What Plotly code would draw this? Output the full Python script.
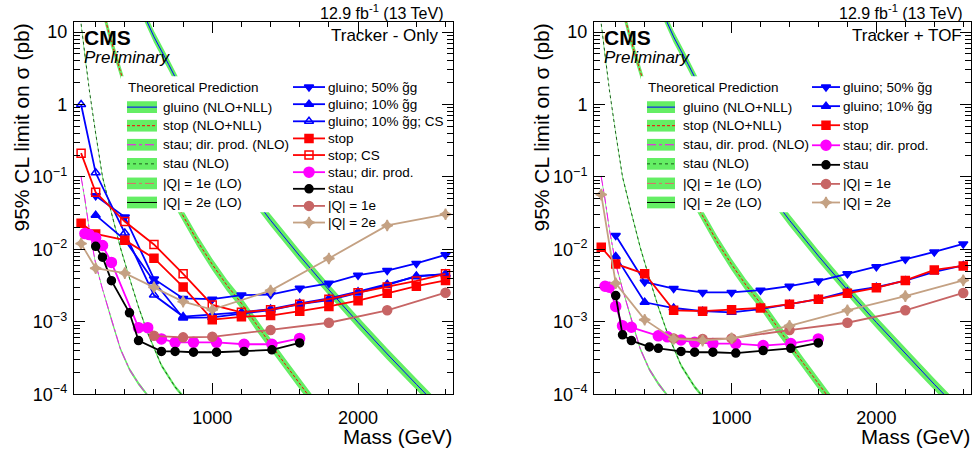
import plotly.graph_objects as go

W, H = 975, 459
FONT = "Liberation Sans, Arial, Helvetica, sans-serif"

# ---------------- theory cross sections (pb) ----------------
glu_th_m = [500, 600, 700, 800, 900, 1000, 1200, 1400, 1600, 1800, 2000, 2200, 2400, 2600]
glu_th = [24.0, 8.6, 3.6, 1.45, 0.66, 0.32, 0.0856, 0.0252, 0.0081, 0.00276, 0.00098, 0.00036, 0.000137, 0.000053]

stop_th_m = [250, 300, 400, 500, 600, 700, 800, 900, 1000, 1100, 1200, 1300, 1400, 1500, 1600, 1700]
stop_th = [20, 8.3, 1.8, 0.51, 0.17, 0.066, 0.029, 0.0128, 0.0062, 0.0032, 0.0018, 0.00092, 0.00049, 0.00026, 0.00014, 0.000075]

stau_th_m = [100, 126, 156, 200, 247, 308, 370, 432, 494, 557, 651, 745, 871]
stau_th = [13, 4.5, 1.6, 0.4, 0.1, 0.032, 0.0105, 0.004, 0.0016, 0.0007, 0.00025, 0.000126, 0.000063]

staudir_th_m = [100, 126, 156, 200, 247, 308, 370, 432, 494, 557, 651]
staudir_th = [0.1, 0.05, 0.019, 0.0063, 0.0028, 0.00105, 0.00042, 0.00022, 0.00014, 0.000095, 0.000056]

# ---------------- observed limits: Tracker-Only ----------------
glu_m = [200, 400, 600, 800, 1000, 1200, 1400, 1600, 1800, 2000, 2200, 2400, 2600]
glu50_tk = [0.055, 0.028, 0.0039, 0.0021, 0.00205, 0.00234, 0.00238, 0.0029, 0.0034, 0.0044, 0.0051, 0.0064, 0.0084]
glu10_tk = [0.0297, 0.0135, 0.0036, 0.00113, 0.00115, 0.0013, 0.00145, 0.00175, 0.002, 0.0025, 0.0032, 0.0043, 0.0045]
glucs_m = [100, 200, 400, 600, 800, 1000, 1200, 1400, 1600, 1800, 2000, 2200, 2400, 2600]
glu10cs_tk = [1.0, 0.114, 0.0168, 0.00234, 0.00118, 0.00125, 0.00135, 0.0015, 0.0018, 0.0021, 0.0026, 0.0033, 0.0042, 0.0046]
stop_m = [100, 200, 400, 600, 800, 1000, 1200, 1400, 1600, 1800, 2000, 2200, 2400, 2600]
stop_tk = [0.023, 0.0163, 0.0134, 0.00755, 0.00303, 0.00107, 0.00117, 0.00122, 0.0014, 0.00163, 0.00196, 0.00247, 0.0031, 0.00373]
stopcs_tk = [0.213, 0.0614, 0.0242, 0.0117, 0.00459, 0.00171, 0.00135, 0.00147, 0.00175, 0.00205, 0.00252, 0.00303, 0.00366, 0.0046]
staudir_m = [126, 156, 200, 247, 308, 494, 557, 651, 745, 871, 1029, 1218, 1409, 1599]
staudir_tk = [0.0165, 0.016, 0.0144, 0.0113, 0.0066, 0.00083, 0.00083, 0.00058, 0.00052, 0.00052, 0.00052, 0.00049, 0.00049, 0.00059]
stau_m = [200, 247, 308, 432, 494, 651, 745, 871, 1029, 1218, 1409, 1599]
stau_tk = [0.011, 0.0078, 0.0037, 0.00133, 0.00055, 0.00039, 0.00039, 0.00038, 0.00038, 0.00039, 0.00041, 0.00051]
q1_m = [600, 800, 1000, 1400, 1800, 2200, 2600]
q1_tk = [0.00064, 0.00061, 0.00062, 0.00077, 0.00097, 0.00144, 0.00252]
q2_m = [100, 200, 400, 600, 800, 1000, 1400, 1800, 2200, 2600]
q2_tk = [0.012, 0.0055, 0.0047, 0.0030, 0.0019, 0.00147, 0.0027, 0.0075, 0.0214, 0.0305]

# ---------------- observed limits: Tracker + TOF ----------------
glu50_tof = [0.0155, 0.00355, 0.00288, 0.00254, 0.00254, 0.00273, 0.0031, 0.00366, 0.0046, 0.00577, 0.0073, 0.0092, 0.0119]
glu10_tof = [0.008, 0.00186, 0.00155, 0.0014, 0.00135, 0.0015, 0.00175, 0.00205, 0.0026, 0.003, 0.0037, 0.0049, 0.006]
stop_tof = [0.0107, 0.0063, 0.0046, 0.00144, 0.0014, 0.00147, 0.00155, 0.00175, 0.00205, 0.00247, 0.00294, 0.00373, 0.0052, 0.0059]
staudir_tof = [0.0031, 0.003, 0.00163, 0.00088, 0.00084, 0.00064, 0.00062, 0.00056, 0.00052, 0.0005, 0.0005, 0.00047, 0.0005, 0.00058]
stau_tof = [0.0023, 0.00066, 0.00055, 0.00045, 0.00043, 0.00039, 0.00038, 0.00038, 0.00037, 0.0004, 0.00043, 0.00051]
q1_tof = [0.00059, 0.00058, 0.00059, 0.00077, 0.00097, 0.00144, 0.0025]
q2_tof = [0.057, 0.0034, 0.00107, 0.00058, 0.00055, 0.00059, 0.00088, 0.00144, 0.00226, 0.00373]

x_ticks = [1000, 2000]
x_minor = [200, 400, 600, 800, 1200, 1400, 1600, 1800, 2200, 2400, 2600]
y_ticks = [1e-4, 1e-3, 1e-2, 1e-1, 1, 10]
y_ticktext = ["10<sup>\u22124</sup>", "10<sup>\u22123</sup>", "10<sup>\u22122</sup>", "10<sup>\u22121</sup>", "1", "10"]
y_minor = [k * 10.0 ** e for e in range(-4, 2) for k in range(2, 10) if k * 10.0 ** e < 14]

GREEN = "rgb(100,238,100)"
BLUE, RED, MAG, BLK = "#0000ff", "#ff0000", "#ff00ff", "#000000"
ROSY, TAN = "#c76565", "#c4a183"
GT = "g\u0303g"

fig = go.Figure()

def band(m, xs, rel, xa, ya):
    up = [v * (1 + rel) for v in xs]
    lo = [v / (1 + rel) for v in xs]
    fig.add_trace(go.Scatter(x=m + m[::-1], y=up + lo[::-1], fill="toself", fillcolor=GREEN,
                             line=dict(width=0), mode="lines", xaxis=xa, yaxis=ya, hoverinfo="skip"))

def theory(xa, ya):
    band(stau_th_m, stau_th, 0.06, xa, ya)
    band(staudir_th_m, staudir_th, 0.06, xa, ya)
    band(stop_th_m, stop_th, 0.2, xa, ya)
    band(glu_th_m, glu_th, 0.2, xa, ya)
    fig.add_trace(go.Scatter(x=stau_th_m, y=stau_th, mode="lines", line=dict(color="#1d5c1d", width=1, dash="dot"), xaxis=xa, yaxis=ya))
    fig.add_trace(go.Scatter(x=staudir_th_m, y=staudir_th, mode="lines", line=dict(color=MAG, width=1, dash="dashdot"), xaxis=xa, yaxis=ya))
    fig.add_trace(go.Scatter(x=stop_th_m, y=stop_th, mode="lines", line=dict(color=RED, width=1, dash="3px,2px"), xaxis=xa, yaxis=ya))
    fig.add_trace(go.Scatter(x=glu_th_m, y=glu_th, mode="lines", line=dict(color=BLUE, width=1), xaxis=xa, yaxis=ya))

def series(m, v, color, symbol, size, xa, ya):
    fig.add_trace(go.Scatter(x=m, y=v, mode="lines+markers", line=dict(color=color, width=1.8),
                             marker=dict(color=color, symbol=symbol, size=size, line=dict(color=color, width=1.5)),
                             xaxis=xa, yaxis=ya))

left_series = [
    ("gluino; 50% " + GT, glu_m, glu50_tk, BLUE, "triangle-down", 8),
    ("gluino; 10% " + GT, glu_m, glu10_tk, BLUE, "triangle-up", 8),
    ("gluino; 10% " + GT + "; CS", glucs_m, glu10cs_tk, BLUE, "triangle-up-open", 8),
    ("stop", stop_m, stop_tk, RED, "square", 8),
    ("stop; CS", stop_m, stopcs_tk, RED, "square-open", 8),
    ("stau; dir. prod.", staudir_m, staudir_tk, MAG, "circle", 10),
    ("stau", stau_m, stau_tk, BLK, "circle", 8),
    ("|Q| = 1e", q1_m, q1_tk, ROSY, "circle", 9),
    ("|Q| = 2e", q2_m, q2_tk, TAN, "star-diamond", 8),
]
right_series = [
    ("gluino; 50% " + GT, glu_m, glu50_tof, BLUE, "triangle-down", 8),
    ("gluino; 10% " + GT, glu_m, glu10_tof, BLUE, "triangle-up", 8),
    ("stop", stop_m, stop_tof, RED, "square", 8),
    ("stau; dir. prod.", staudir_m, staudir_tof, MAG, "circle", 10),
    ("stau", stau_m, stau_tof, BLK, "circle", 8),
    ("|Q| = 1e", q1_m, q1_tof, ROSY, "circle", 9),
    ("|Q| = 2e", q2_m, q2_tof, TAN, "star-diamond", 8),
]

theory("x", "y")
for s in left_series:
    series(s[1], s[2], s[3], s[4], s[5], "x", "y")
theory("x2", "y2")
for s in right_series:
    series(s[1], s[2], s[3], s[4], s[5], "x2", "y2")

# ---------------- legends (pixel-coordinate overlay axis) ----------------
shapes, annos = [], []

def ann(x, y, text, size, xanchor="left", yanchor="middle", **kw):
    annos.append(dict(x=x / W, y=1 - y / H, xref="paper", yref="paper", text=text, showarrow=False,
                      xanchor=xanchor, yanchor=yanchor, font=dict(family=FONT, size=size, color="black"), **kw))

theory_entries = [
    (BLUE, "solid"), (RED, "3px,2px"), (MAG, "dashdot"), ("#1d5c1d", "dot"), ("#e06a6a", "dashdot"), (BLK, "solid")]
theory_labels_l = ["gluino (NLO+NLL)", "stop (NLO+NLL)", "stau; dir. prod. (NLO)", "stau (NLO)", "|Q| = 1e (LO)", "|Q| = 2e (LO)"]
theory_labels_r = ["gluino (NLO+NLL)", "stop (NLO+NLL)", "stau, dir. prod. (NLO)", "stau (NLO)", "|Q| = 1e (LO)", "|Q| = 2e (LO)"]
theory_y = [109.5, 128.5, 148, 167.5, 187.5, 207]

def theory_legend(box, sx0, sx1, tx, labels):
    shapes.append(dict(type="rect", xref="paper", yref="paper", x0=box[0] / W, x1=box[1] / W,
                       y0=1 - box[3] / H, y1=1 - box[2] / H, fillcolor="white", line=dict(width=0), layer="above"))
    ann(sx0 - 1, 89, "Theoretical Prediction", 13.5)
    for (col, dash), lab, y in zip(theory_entries, labels, theory_y):
        shapes.append(dict(type="rect", xref="paper", yref="paper", x0=sx0 / W, x1=sx1 / W,
                           y0=1 - (y + 6) / H, y1=1 - (y - 6) / H, fillcolor=GREEN, line=dict(width=0), layer="above"))
        shapes.append(dict(type="line", xref="paper", yref="paper", x0=sx0 / W, x1=sx1 / W,
                           y0=1 - y / H, y1=1 - y / H, line=dict(color=col, width=1, dash=dash), layer="above"))
        ann(tx, y, lab, 13.5)

theory_legend((121, 292, 78, 217), 127, 157, 161, theory_labels_l)
theory_legend((641, 811, 78, 217), 647, 675, 681, theory_labels_r)

def data_legend(entries, ys, lx0, lx1, tx):
    for s, y in zip(entries, ys):
        fig.add_trace(go.Scatter(x=[lx0, lx1], y=[y, y], mode="lines", line=dict(color=s[3], width=1.8),
                                 xaxis="x3", yaxis="y3"))
        fig.add_trace(go.Scatter(x=[(lx0 + lx1) / 2], y=[y], mode="markers",
                                 marker=dict(color=s[3], symbol=s[4], size=s[5], line=dict(color=s[3], width=1.5)),
                                 xaxis="x3", yaxis="y3"))
        ann(tx, y, s[0], 13.5)

data_legend(left_series, [89, 106.5, 124, 141.5, 158.5, 176, 193, 210.5, 227.5], 293, 325, 326)
data_legend(right_series, [89, 108.5, 128, 148.5, 168.5, 188, 207], 812, 840, 841)

# ---------------- texts ----------------
for (xl, xr, ytitle_x, label, labx) in [(82, 446, 22, "Tracker - Only", 441), (602, 965, 542, "Tracker + TOF", 964)]:
    ann(xr, 12, "12.9 fb<sup>-1</sup> (13 TeV)", 16, xanchor="right")
    ann(xl, 38, "<b>CMS</b>", 21)
    ann(xl, 59, "<i>Preliminary</i>", 17)
    ann(labx, 36, label, 17, xanchor="right")
    ann(ytitle_x, 22, "95% CL limit on \u03c3 (pb)", 21, xanchor="center", yanchor="top", textangle=-90)
ann(454, 446, "Mass (GeV)", 20.5, xanchor="right")
ann(972, 446, "Mass (GeV)", 20.5, xanchor="right")

# ---------------- axes ----------------
def xax(domain, anchor):
    return dict(domain=domain, anchor=anchor, range=[50, 2650], tickmode="array", tickvals=x_ticks,
                ticks="inside", ticklen=11, tickwidth=1, tickcolor="black", mirror="ticks", showline=True,
                linecolor="black", linewidth=1, showgrid=False, zeroline=False, ticklabelstandoff=7,
                tickfont=dict(family=FONT, size=18, color="black"),
                minor=dict(tickmode="array", tickvals=x_minor, ticks="inside", ticklen=5, tickcolor="black", showgrid=False))

def yax(anchor):
    return dict(domain=[1 - 403 / H, 1 - 22 / H], anchor=anchor, type="log", range=[-4, 1.146],
                tickmode="array", tickvals=y_ticks, ticktext=y_ticktext,
                ticks="inside", ticklen=11, tickwidth=1, tickcolor="black", mirror="ticks", showline=True,
                linecolor="black", linewidth=1, showgrid=False, zeroline=False, ticklabelstandoff=2,
                tickfont=dict(family=FONT, size=18, color="black"),
                minor=dict(tickmode="array", tickvals=y_minor, ticks="inside", ticklen=6, tickcolor="black", showgrid=False))

fig.update_layout(
    width=W, height=H, margin=dict(l=0, r=0, t=0, b=0),
    paper_bgcolor="white", plot_bgcolor="rgba(0,0,0,0)", showlegend=False,
    font=dict(family=FONT, color="black"),
    xaxis=xax([73.8 / W, 452.8 / W], "y"),
    yaxis=yax("x"),
    xaxis2=xax([594 / W, 970.5 / W], "y2"),
    yaxis2=yax("x2"),
    xaxis3=dict(domain=[0, 1], range=[0, W], visible=False, anchor="y3", fixedrange=True),
    yaxis3=dict(domain=[0, 1], range=[H, 0], visible=False, anchor="x3", fixedrange=True),
    shapes=shapes, annotations=annos,
)

fig.write_html("out.html", config={"displayModeBar": False, "staticPlot": True},
               post_script="document.body.style.margin='0px';document.body.style.overflow='hidden';")
